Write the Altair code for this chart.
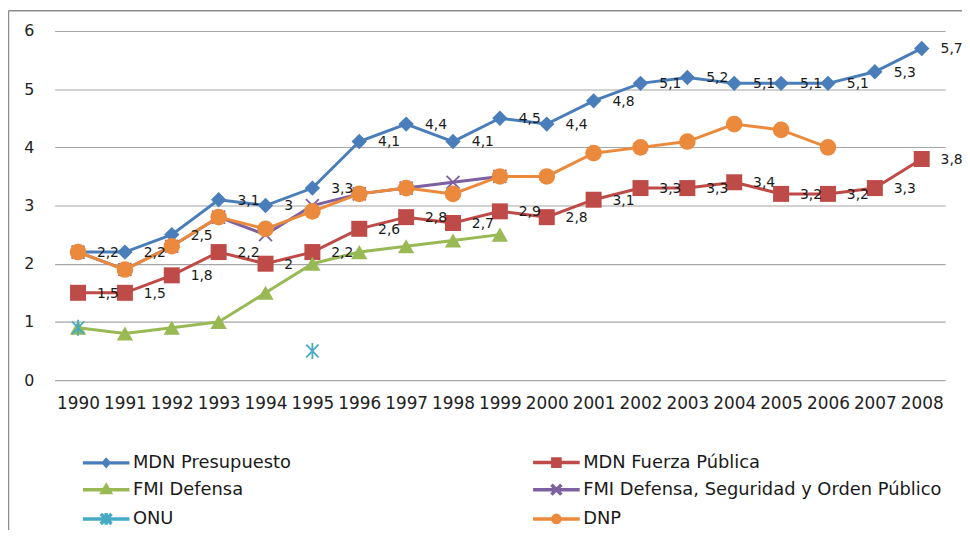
import altair as alt
import pandas as pd

years = list(range(1990, 2009))
series_names = [
    "MDN Presupuesto",
    "MDN Fuerza Pública",
    "FMI Defensa",
    "FMI Defensa, Seguridad y Orden Público",
    "ONU",
    "DNP",
]
mdn_presupuesto = [2.2, 2.2, 2.5, 3.1, 3.0, 3.3, 4.1, 4.4, 4.1, 4.5, 4.4, 4.8, 5.1, 5.2, 5.1, 5.1, 5.1, 5.3, 5.7]
mdn_fuerza = [1.5, 1.5, 1.8, 2.2, 2.0, 2.2, 2.6, 2.8, 2.7, 2.9, 2.8, 3.1, 3.3, 3.3, 3.4, 3.2, 3.2, 3.3, 3.8]
fmi_defensa = [0.9, 0.8, 0.9, 1.0, 1.5, 2.0, 2.2, 2.3, 2.4, 2.5] + [None] * 9
fmi_dsop = [2.2, 1.9, 2.3, 2.8, 2.5, 3.0, 3.2, 3.3, 3.4, 3.5] + [None] * 9
onu = [0.9, None, None, None, None, 0.5] + [None] * 13
dnp = [2.2, 1.9, 2.3, 2.8, 2.6, 2.9, 3.2, 3.3, 3.2, 3.5, 3.5, 3.9, 4.0, 4.1, 4.4, 4.3, 4.0] + [None] * 2
labelled = ["MDN Presupuesto", "MDN Fuerza Pública"]

colors = ["#4A7EBB", "#BE4B48", "#98B954", "#7D60A0", "#46AAC5", "#EB8A3C"]

all_values = [mdn_presupuesto, mdn_fuerza, fmi_defensa, fmi_dsop, onu, dnp]
rows = []
for name, vals in zip(series_names, all_values):
    for yr, v in zip(years, vals):
        if v is not None:
            rows.append({"series": name, "year": yr, "value": v})
df = pd.DataFrame(rows)

X_PATH = "M-1,-1L1,1M-1,1L1,-1"
AST_PATH = "M0,-1V1M-0.78,-0.8L0.78,0.8M-0.78,0.8L0.78,-0.8"

marker_specs = {
    "MDN Presupuesto": dict(shape="diamond", size=240, filled=True),
    "MDN Fuerza Pública": dict(shape="square", size=260, filled=True),
    "FMI Defensa": dict(shape="triangle-up", size=270, filled=True),
    "FMI Defensa, Seguridad y Orden Público": dict(shape=X_PATH, size=170, filled=False),
    "ONU": dict(shape=AST_PATH, size=256, filled=False),
    "DNP": dict(shape="circle", size=280, filled=True),
}

# legend glyphs: a line segment with the series marker (unit = 10 px at symbolSize 400)
legend_paths = [
    "M-2.35,0L2.35,0M0,-0.3L0.26,0L0,0.3L-0.26,0Z",
    "M-2.35,0L2.35,0M-0.36,-0.36L0.36,-0.36L0.36,0.36L-0.36,0.36Z",
    "M-2.35,0L2.35,0M0,-0.4L0.4,0.3L-0.4,0.3Z",
    "M-2.35,0L2.35,0M-0.5,-0.5L0.5,0.5M-0.5,0.5L0.5,-0.5",
    "M-2.35,0L2.35,0M0,-0.6L0,0.6M-0.55,-0.5L0.55,0.5M-0.55,0.5L0.55,-0.5",
    "M-2.35,0L2.35,0M-0.36,0A0.36,0.36 0 1,0 0.36,0A0.36,0.36 0 1,0 -0.36,0Z",
]

FONT = "DejaVu Sans"

x_enc = alt.X(
    "year:O",
    scale=alt.Scale(type="point", padding=0.5, domain=years),
    axis=alt.Axis(
        title=None, domain=False, ticks=False, grid=False, labelAngle=0,
        labelFont=FONT, labelFontSize=17, labelColor="#222222", labelPadding=16,
    ),
)
y_enc = alt.Y(
    "value:Q",
    scale=alt.Scale(domain=[0, 6], nice=False),
    axis=alt.Axis(
        title=None, domain=False, ticks=False, grid=True, values=[0, 1, 2, 3, 4, 5, 6],
        gridColor="#A6A6A6", gridWidth=1.2, labelFont=FONT, labelFontSize=16,
        labelColor="#222222", labelPadding=21,
    ),
)
color_enc = alt.Color(
    "series:N", scale=alt.Scale(domain=series_names, range=colors), legend=None
)

base = alt.Chart(df)
layers = []
for name in series_names:
    sub = base.transform_filter(alt.datum.series == name)
    if name != "ONU":
        layers.append(
            sub.mark_line(strokeWidth=3).encode(x=x_enc, y=y_enc, color=color_enc)
        )
    spec = marker_specs[name]
    if spec["filled"]:
        pt = sub.mark_point(
            shape=spec["shape"], size=spec["size"], filled=True, opacity=1, strokeWidth=0
        )
    else:
        pt = sub.mark_point(
            shape=spec["shape"], size=spec["size"], filled=False, opacity=1, strokeWidth=1.8
        )
    layers.append(pt.encode(x=x_enc, y=y_enc, color=color_enc))

labels = (
    base.transform_filter(alt.FieldOneOfPredicate(field="series", oneOf=labelled))
    .transform_calculate(label="replace(format(datum.value, '.1~f'), '.', ',')")
    .mark_text(align="left", baseline="middle", dx=19, dy=1, font=FONT, fontSize=14, color="#1A1A1A")
    .encode(x=x_enc, y=y_enc, text="label:N")
)
layers.append(labels)

legend_def = alt.Legend(
    title=None,
    orient="none",
    legendX=40,
    legendY=423,
    direction="horizontal",
    columns=2,
    columnPadding=236,
    rowPadding=4.5,
    padding=0,
    labelFont=FONT,
    labelFontSize=18,
    labelColor="#1A1A1A",
    labelOffset=15,
    labelLimit=600,
    symbolSize=400,
    symbolStrokeWidth=3.5,
    symbolOpacity=1,
)
legend_layer = (
    base.mark_point(opacity=0, strokeWidth=3.5, filled=True)
    .encode(
        x=x_enc,
        y=y_enc,
        fill=alt.Fill("series:N", scale=alt.Scale(domain=series_names, range=colors), legend=legend_def),
        stroke=alt.Stroke("series:N", scale=alt.Scale(domain=series_names, range=colors), legend=legend_def),
        shape=alt.Shape("series:N", scale=alt.Scale(domain=series_names, range=legend_paths), legend=legend_def),
    )
)
layers.append(legend_layer)

border_data = alt.Data(values=[{"b": 1}])
border_top = alt.Chart(border_data).mark_rule(color="#8C8C8C", strokeWidth=1.5).encode(
    x=alt.value(-46.5), x2=alt.value(915), y=alt.value(-20.5)
)
border_left = alt.Chart(border_data).mark_rule(color="#8C8C8C", strokeWidth=1.5).encode(
    x=alt.value(-46.5), y=alt.value(-20.5), y2=alt.value(510)
)
layers.extend([border_top, border_left])

chart = (
    alt.layer(*layers)
    .resolve_legend(color="independent", fill="independent", stroke="independent", shape="independent")
    .properties(
        width=898,
        height=352,
        autosize=alt.AutoSizeParams(type="none"),
        padding={"left": 47, "top": 21, "right": 17, "bottom": 149},
        background="white",
    )
    .configure_view(stroke=None)
)

chart.save("out.html", embed_options={"renderer": "svg", "actions": False})
